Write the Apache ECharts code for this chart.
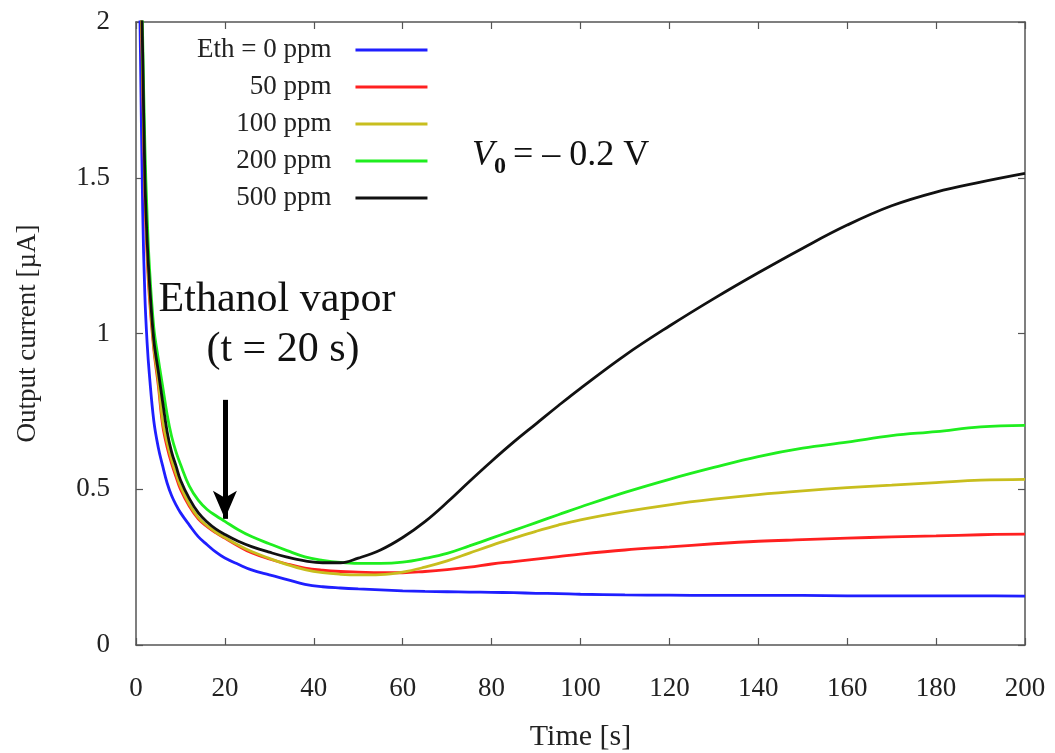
<!DOCTYPE html>
<html>
<head>
<meta charset="utf-8">
<script src="https://cdn.jsdelivr.net/npm/echarts@6/dist/echarts.min.js"></script>
<style>
  html, body { margin: 0; padding: 0; background: #fff; }
  #main { width: 1055px; height: 753px; }
</style>
</head>
<body>
<div id="main"></div>
<script>
// time [s]
var times = [0, 0.5, 1, 1.5, 2, 2.5, 3, 4, 5, 6, 7, 8, 9, 10, 12, 14, 16, 18, 20, 23, 26, 30, 34, 38, 42, 46, 50, 55,
  60, 65, 70, 75, 80, 85, 90, 95, 100, 110, 120, 130, 140, 150, 160, 170, 180, 190, 200];

// output current [uA] for each ethanol concentration
var eth0 = [2.6, 2.35, 1.9, 1.4, 1.12, 0.97, 0.87, 0.72, 0.635, 0.575, 0.52, 0.48, 0.45, 0.425, 0.385, 0.348, 0.322, 0.298,
  0.279, 0.259, 0.241, 0.225, 0.21, 0.195, 0.187, 0.183, 0.18, 0.177, 0.174, 0.172, 0.171, 0.17, 0.169, 0.168, 0.166,
  0.165, 0.163, 0.161, 0.16, 0.159, 0.159, 0.159, 0.158, 0.158, 0.158, 0.158, 0.157];
var eth50 = [2.7, 2.5, 2.15, 1.8, 1.45, 1.25, 1.12, 0.95, 0.835, 0.705, 0.635, 0.583, 0.54, 0.5, 0.445, 0.405, 0.38, 0.36,
  0.343, 0.318, 0.296, 0.276, 0.26, 0.247, 0.24, 0.236, 0.234, 0.232, 0.232, 0.236, 0.242, 0.25, 0.26, 0.268, 0.276,
  0.284, 0.292, 0.305, 0.315, 0.325, 0.333, 0.338, 0.343, 0.347, 0.35, 0.354, 0.356];
var eth100 = [2.7, 2.5, 2.18, 1.83, 1.48, 1.28, 1.14, 0.96, 0.85, 0.72, 0.65, 0.595, 0.55, 0.51, 0.452, 0.41, 0.383, 0.362,
  0.345, 0.321, 0.3, 0.278, 0.258, 0.242, 0.232, 0.227, 0.225, 0.226, 0.234, 0.25, 0.27, 0.295, 0.32, 0.343, 0.365,
  0.385, 0.402, 0.428, 0.45, 0.468, 0.483, 0.495, 0.505, 0.513, 0.521, 0.529, 0.532];
var eth200 = [2.8, 2.65, 2.3, 1.95, 1.6, 1.38, 1.22, 1.02, 0.92, 0.83, 0.74, 0.67, 0.62, 0.58, 0.51, 0.465, 0.435, 0.415,
  0.397, 0.37, 0.348, 0.325, 0.303, 0.283, 0.272, 0.265, 0.262, 0.262, 0.266, 0.278, 0.294, 0.318, 0.343, 0.368, 0.393,
  0.418, 0.443, 0.49, 0.532, 0.57, 0.605, 0.632, 0.651, 0.672, 0.685, 0.7, 0.705];
var eth500 = [2.8, 2.6, 2.25, 1.9, 1.5, 1.3, 1.17, 0.98, 0.88, 0.78, 0.685, 0.62, 0.575, 0.53, 0.47, 0.425, 0.395, 0.372,
  0.355, 0.333, 0.316, 0.298, 0.282, 0.27, 0.264, 0.264, 0.279, 0.305, 0.345, 0.396, 0.458, 0.525, 0.59, 0.652, 0.71,
  0.768, 0.824, 0.93, 1.024, 1.112, 1.195, 1.274, 1.348, 1.41, 1.454, 1.486, 1.514];

var names = ['Eth = 0 ppm', '50 ppm', '100 ppm', '200 ppm', '500 ppm'];
var colors = ['#1f1fff', '#ff2020', '#c8be1e', '#1fee1f', '#111111'];
var values = [eth0, eth50, eth100, eth200, eth500];

// arrow: ethanol vapor introduced at t = 20 s
var arrowT = 20;
var arrowFrom = 0.787;
var arrowTo = 0.405;

var serif = '"Liberation Serif", "Times New Roman", serif';
var chart = echarts.init(document.getElementById('main'));

function pairs(vals) {
  return times.map(function (t, i) { return [t, vals[i]]; });
}

var series = values.map(function (vals, i) {
  return {
    name: names[i],
    type: 'line',
    data: pairs(vals),
    showSymbol: false,
    symbol: 'none',
    smooth: 0.4,
    clip: true,
    lineStyle: { color: colors[i], width: 2.8 },
    itemStyle: { color: colors[i] },
    z: 2 + i
  };
});

series[4].markLine = {
  silent: true,
  symbol: ['none', 'arrow'],
  symbolSize: [18, 28],
  label: { show: false },
  lineStyle: { color: '#000', width: 5, type: 'solid' },
  data: [[{ coord: [arrowT, arrowFrom] }, { coord: [arrowT, arrowTo] }]]
};

var axisLine = { show: true, onZero: false, lineStyle: { color: '#555', width: 1.5 } };
var tick = { show: true, inside: true, length: 7, lineStyle: { color: '#555', width: 1.2 } };

chart.setOption({
  backgroundColor: '#fff',
  animation: false,
  grid: { left: 136, right: 30, top: 22, bottom: 108, outerBoundsMode: 'none', containLabel: false },
  legend: {
    orient: 'vertical',
    align: 'right',
    left: 192,
    top: 31,
    itemWidth: 72,
    itemHeight: 3,
    itemGap: 9,
    icon: 'rect',
    data: names,
    textStyle: { fontFamily: serif, fontSize: 27, color: '#222', lineHeight: 28, padding: [0, 19, 0, 0] }
  },
  xAxis: [{
    type: 'value', min: 0, max: 200, interval: 20,
    name: 'Time [s]', nameLocation: 'middle', nameGap: 77,
    nameTextStyle: { fontFamily: serif, fontSize: 30, color: '#222' },
    axisLine: axisLine, axisTick: tick,
    axisLabel: { fontFamily: serif, fontSize: 27, color: '#222', margin: 30 },
    splitLine: { show: false }
  }, {
    type: 'value', min: 0, max: 200, interval: 20, position: 'top',
    axisLine: axisLine, axisTick: tick, axisLabel: { show: false }, splitLine: { show: false }
  }],
  yAxis: [{
    type: 'value', min: 0, max: 2, interval: 0.5,
    name: 'Output current [\u00b5A]', nameLocation: 'middle', nameGap: 95, nameRotate: 90,
    nameTextStyle: { fontFamily: serif, fontSize: 27, color: '#222' },
    axisLine: axisLine, axisTick: tick,
    axisLabel: { fontFamily: serif, fontSize: 27, color: '#222', margin: 26 },
    splitLine: { show: false }
  }, {
    type: 'value', min: 0, max: 2, interval: 0.5, position: 'right',
    axisLine: axisLine, axisTick: tick, axisLabel: { show: false }, splitLine: { show: false }
  }],
  graphic: [{
    type: 'text', x: 277, y: 300, z: 20,
    style: { text: 'Ethanol vapor', font: '42px ' + serif, fill: '#111', align: 'center', verticalAlign: 'middle' }
  }, {
    type: 'text', x: 283, y: 350, z: 20,
    style: { text: '(t = 20 s)', font: '42px ' + serif, fill: '#111', align: 'center', verticalAlign: 'middle' }
  }, {
    type: 'text', x: 472, y: 156, z: 20,
    style: {
      text: '{i|V}{s|0}{n|= \u2013 0.2 V}',
      align: 'left', verticalAlign: 'middle',
      rich: {
        i: { fontFamily: serif, fontSize: 36, fontStyle: 'italic', fill: '#111', color: '#111' },
        s: { fontFamily: serif, fontSize: 24, fontWeight: 'bold', fill: '#111', color: '#111', padding: [22, 7, 0, 0] },
        n: { fontFamily: serif, fontSize: 36, fill: '#111', color: '#111' }
      }
    }
  }],
  series: series
});
</script>
</body>
</html>
